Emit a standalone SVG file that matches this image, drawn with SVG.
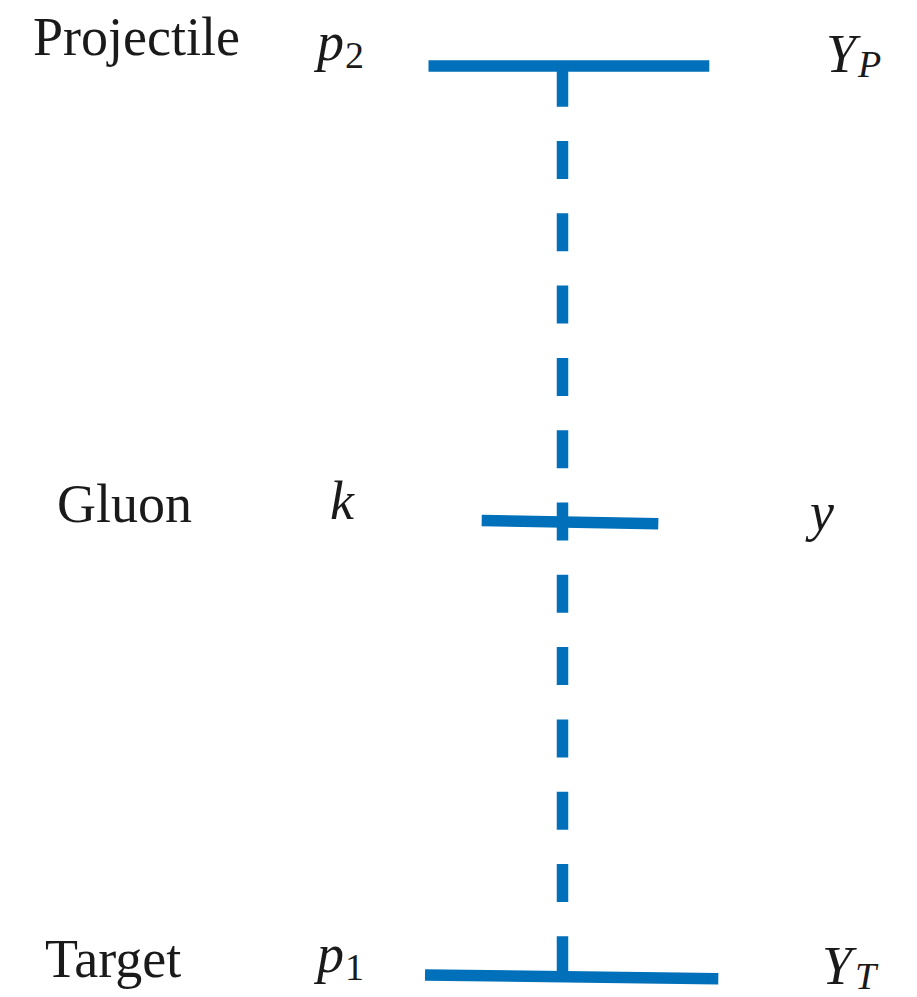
<svg xmlns="http://www.w3.org/2000/svg" width="917" height="997" viewBox="0 0 917 997">
<style>
.bar{stroke:#0070BA;stroke-width:11.5;fill:none}
.dash{stroke:#0070BA;stroke-width:11.5;fill:none;stroke-dasharray:38 34.3}
.lbl{font-family:"Liberation Serif","DejaVu Serif",serif;font-size:54px;fill:#1a1a1a}
.math{font-family:"Liberation Serif","DejaVu Serif",serif;font-style:italic;font-size:54px;fill:#1a1a1a}
.sub{font-family:"Liberation Serif","DejaVu Serif",serif;font-size:38px;fill:#1a1a1a}
.subi{font-family:"Liberation Serif","DejaVu Serif",serif;font-style:italic;font-size:38px;fill:#1a1a1a}
</style>
<rect width="917" height="997" fill="#ffffff"/>
<g id="connectors">
<line class="dash" x1="562.5" y1="68.7" x2="562.5" y2="976"/>
</g>
<g id="projectile">
<line class="bar" x1="428.5" y1="66" x2="709.3" y2="66"/>
<text class="lbl" x="33" y="55">Projectile</text>
<text class="math" x="317" y="60">p</text><text class="sub" x="345" y="68">2</text>
<text class="math" x="826" y="72">Y</text><text class="subi" x="858" y="77">P</text>
</g>
<g id="gluon">
<line class="bar" x1="481.7" y1="520.5" x2="658.3" y2="523.8"/>
<text class="lbl" x="57" y="522">Gluon</text>
<text class="math" x="330" y="519">k</text>
<text class="math" x="810" y="530">y</text>
</g>
<g id="target">
<line class="bar" x1="425" y1="975" x2="718.3" y2="978.7"/>
<text class="lbl" x="45" y="977">Target</text>
<text class="math" x="317" y="972">p</text><text class="sub" x="345" y="980">1</text>
<text class="math" x="822" y="984">Y</text><text class="subi" x="855" y="989">T</text>
</g>
</svg>
